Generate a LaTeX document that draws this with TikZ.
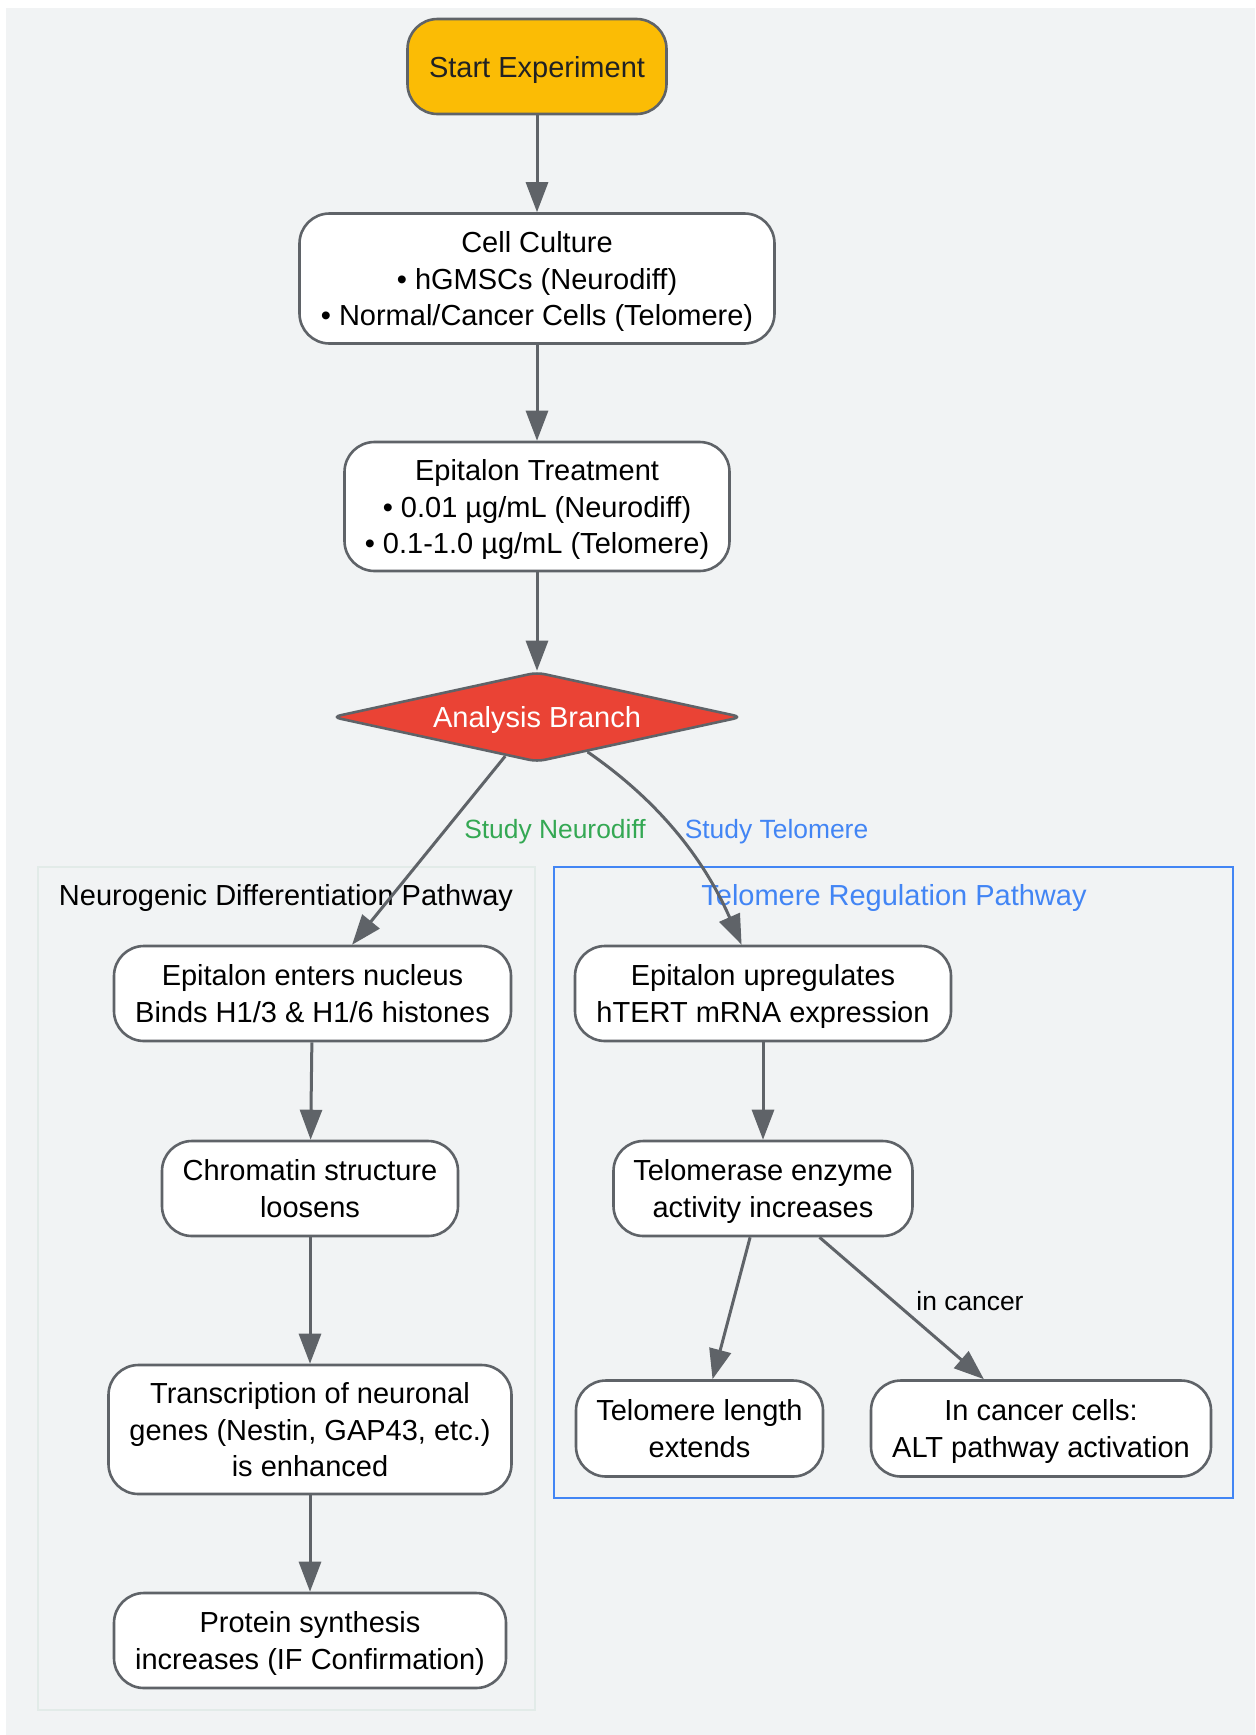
\documentclass[tikz,border=0pt]{standalone}
\usepackage{fontspec}
\setmainfont{Liberation Sans}
\usetikzlibrary{shapes.geometric,arrows.meta}
\definecolor{bggray}{HTML}{F1F3F4}
\definecolor{edgegray}{HTML}{5F6368}
\definecolor{startamber}{HTML}{FBBC05}
\definecolor{startdark}{HTML}{202124}
\definecolor{branchred}{HTML}{EA4335}
\definecolor{neurogreen}{HTML}{34A853}
\definecolor{teloblue}{HTML}{4285F4}
\definecolor{neuroframe}{HTML}{E2EBE8}
\newcommand{\nodefont}{\fontsize{14.5}{18.25}\selectfont}
\newcommand{\labelfont}{\fontsize{13.2}{16}\selectfont}
\tikzset{
	stepnode/.style={draw=edgegray, line width=1.3pt, fill=white, rounded corners=15pt, align=center, inner sep=0pt, text depth=0pt, font=\nodefont},
	flow/.style={draw=edgegray, line width=1.5pt, -{Triangle[length=15pt,width=11pt]}},
	edgelabel/.style={font=\labelfont, inner sep=0pt},
}

\begin{document}
\begin{tikzpicture}[x=0.5pt, y=-0.5pt]
		%%%%% START %%%%%
		
		\useasboundingbox (0, 0) rectangle (1255, 1735);
		\fill[bggray] (6, 8) rectangle (1255, 1735);
		
		% pathway frames
		\draw[neuroframe, line width=1pt] (38, 867) rectangle (535, 1710);
		\draw[teloblue, line width=1pt] (554, 867) rectangle (1233, 1498);
		\node[font=\nodefont] (neurotitle) at (286, 898) {Neurogenic Differentiation Pathway};
		\node[font=\nodefont, text=teloblue] (telotitle) at (894, 898) {Telomere Regulation Pathway};
		
		% main trunk
		\node[stepnode, fill=startamber, text=startdark, minimum width=129.5pt, minimum height=47.5pt] (start) at (537, 66.5) {Start Experiment};
		\node[stepnode, minimum width=237.5pt, minimum height=65pt] (culture) at (537, 278.5) {Cell Culture\\• hGMSCs (Neurodiff)\\• Normal/Cancer Cells (Telomere)};
		\node[stepnode, minimum width=192.5pt, minimum height=64.5pt] (treatment) at (537, 506.5) {Epitalon Treatment\\• 0.01 µg/mL (Neurodiff)\\• 0.1-1.0 µg/mL (Telomere)};
		\node[draw=edgegray, line width=1.3pt, fill=branchred, text=white, shape=diamond, aspect=4.5, minimum width=205pt, minimum height=45pt, inner sep=0pt, text depth=0pt, rounded corners=4pt, font=\nodefont] (branch) at (537, 717) {Analysis Branch};
		
		% neurogenic side
		\node[stepnode, minimum width=198.5pt, minimum height=47.5pt] (nucleus) at (312.5, 993.5) {Epitalon enters nucleus\\Binds H1/3 \& H1/6 histones};
		\node[stepnode, minimum width=148pt, minimum height=47.5pt] (chromatin) at (310, 1188.5) {Chromatin structure\\loosens};
		\node[stepnode, minimum width=201.5pt, minimum height=64.5pt] (transcription) at (310, 1429.5) {Transcription of neuronal\\genes (Nestin, GAP43, etc.)\\is enhanced};
		\node[stepnode, minimum width=196pt, minimum height=47.5pt] (protein) at (310, 1640.5) {Protein synthesis\\increases (IF Confirmation)};
		
		% telomere side
		\node[stepnode, minimum width=188pt, minimum height=47.5pt] (htert) at (763, 993.5) {Epitalon upregulates\\hTERT mRNA expression};
		\node[stepnode, minimum width=149.5pt, minimum height=47.5pt] (telomerase) at (763, 1188.5) {Telomerase enzyme\\activity increases};
		\node[stepnode, minimum width=123.5pt, minimum height=48pt] (length) at (699.5, 1428.5) {Telomere length\\extends};
		\node[stepnode, minimum width=170pt, minimum height=48pt] (alt) at (1041, 1428.5) {In cancer cells:\\ALT pathway activation};
		
		% connectors
		\draw[flow] (start) -- (culture);
		\draw[flow] (culture) -- (treatment);
		\draw[flow] (treatment) -- (branch);
		\draw[flow] (branch) -- (nucleus);
		\draw[flow] (branch) .. controls (650, 795) and (700, 850) .. (htert);
		\draw[flow] (nucleus) -- (chromatin);
		\draw[flow] (chromatin) -- (transcription);
		\draw[flow] (transcription) -- (protein);
		\draw[flow] (htert) -- (telomerase);
		\draw[flow] (telomerase) -- (length);
		\draw[flow] (telomerase) -- (alt);
		
		\node[edgelabel, text=neurogreen] (neurolabel) at (555, 832) {Study Neurodiff};
		\node[edgelabel, text=teloblue] (telolabel) at (776.5, 832) {Study Telomere};
		\node[edgelabel] (cancerlabel) at (970, 1301) {in cancer};
		
		%%%%% END %%%%%
	\end{tikzpicture}
\end{document}
